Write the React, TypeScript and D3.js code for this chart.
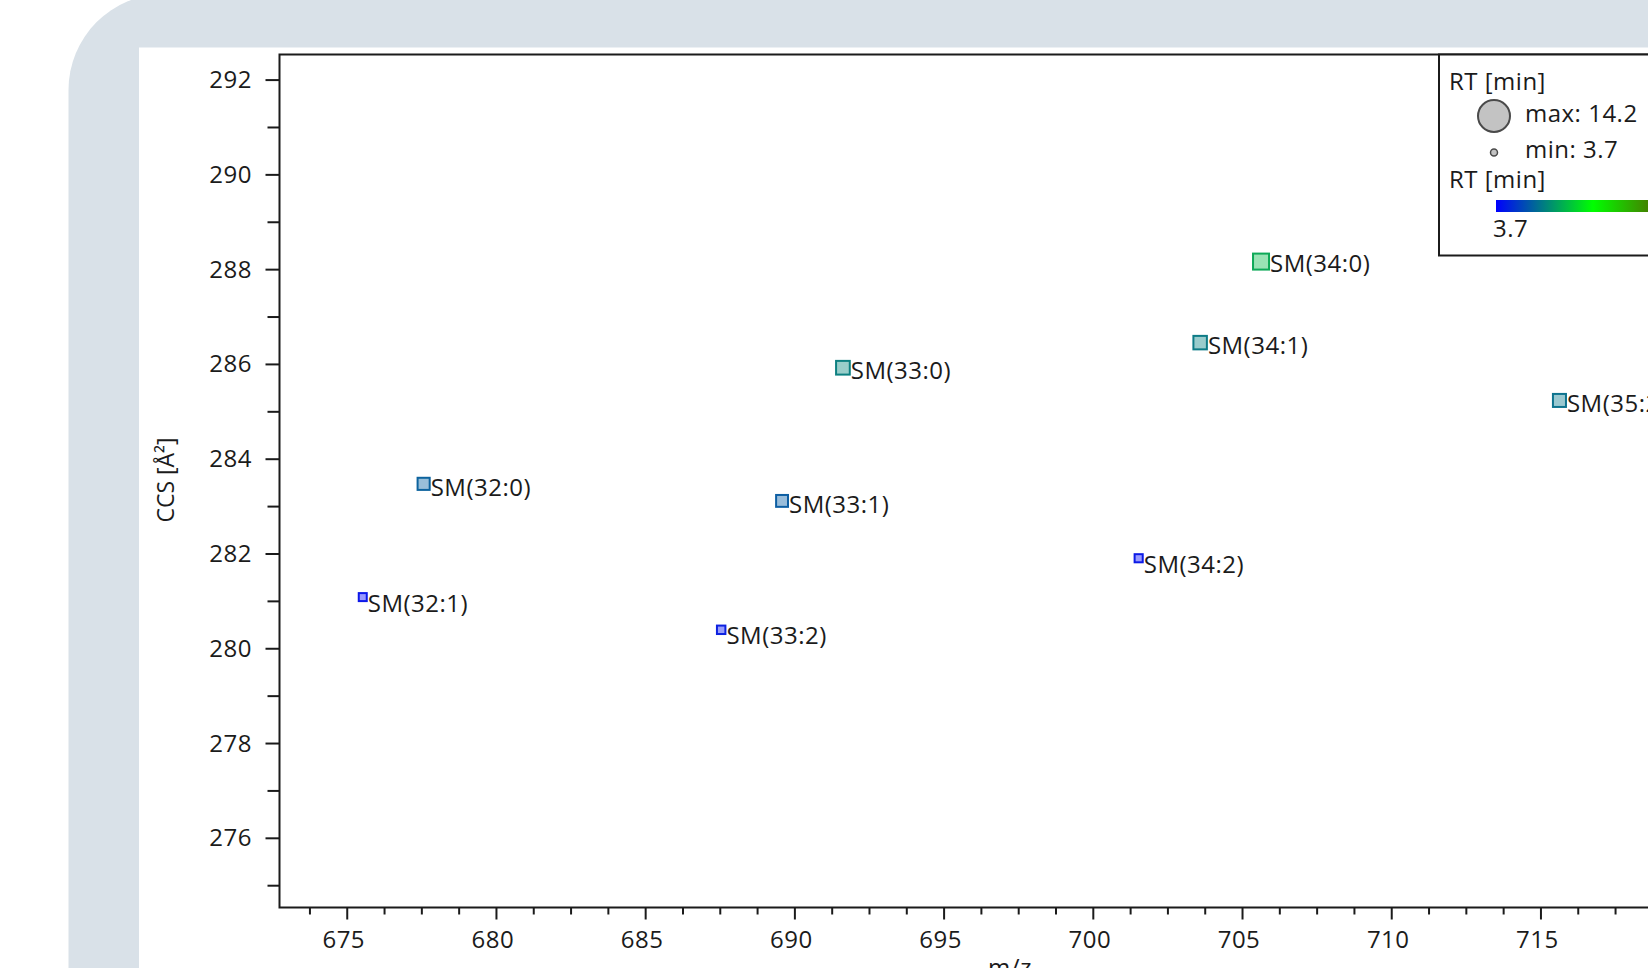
import React from "react";
import * as d3 from "d3";

// ---- data ----
const labels = ["SM(32:1)", "SM(32:0)", "SM(33:2)", "SM(33:1)", "SM(33:0)", "SM(34:2)", "SM(34:1)", "SM(34:0)", "SM(35:2)"];
const mzValues = [675.52, 677.56, 687.53, 689.57, 691.61, 701.52, 703.58, 705.62, 715.62];
const ccsValues = [281.09, 283.48, 280.4, 283.12, 285.93, 281.91, 286.46, 288.17, 285.24];
const rtValues = [3.7, 5.5, 3.9, 5.4, 6.2, 3.75, 6.1, 7.2, 5.9];

const xMajorTicks = [675, 680, 685, 690, 695, 700, 705, 710, 715, 720];
const xMinorStep = 1.25;
const yMajorTicks = [276, 278, 280, 282, 284, 286, 288, 290, 292];
const yMinorTicks = [275, 277, 279, 281, 283, 285, 287, 289, 291];

const rtMin = 3.7;
const rtMax = 14.2;
const rtColorStops = [3.7, 8.5, 14.2];

const W = 1648;
const H = 968;
const FONT = "'Open Sans', 'Noto Sans', sans-serif";
const INK = "#1b1b1b";

export default function App() {
  const left = 279.5;
  const right = 1740;
  const top = 54.5;
  const bottom = 907.5;

  const x = d3.scaleLinear().domain([672.73, 721.67]).range([left, right]);
  const y = d3.scaleLinear().domain([274.54, 292.54]).range([bottom, top]);
  const size = d3.scaleLinear().domain([rtMin, rtMax]).range([8, 32]);
  const color = d3
    .scaleLinear<string>()
    .domain(rtColorStops)
    .range(["#0000ff", "#00ff00", "#8b0000"])
    .interpolate(d3.interpolateRgb);

  const [d0, d1] = x.domain();
  const xMinorTicks: number[] = [];
  for (let v = 675 - xMinorStep * Math.floor((675 - d0) / xMinorStep); v <= d1; v += xMinorStep) {
    const r = Math.round(v * 100) / 100;
    if (Math.abs(r % 5) > 0.01) xMinorTicks.push(r);
  }

  const points = labels.map((name, i) => {
    const c = color(rtValues[i]);
    return {
      name,
      cx: x(mzValues[i]),
      cy: y(ccsValues[i]),
      s: size(rtValues[i]),
      c,
      stroke: d3.interpolateRgb(c, "#3c6e9a")(0.22),
    };
  });

  // legend
  const lgX = 1439;
  const lgY = top;
  const barX = 1496;
  const barW = 212;
  const barScale = d3.scaleLinear().domain([rtMin, rtMax]).range([barX, barX + barW]);
  const gradStops = rtColorStops.map((v) => ({
    offset: ((barScale(v) - barX) / barW) * 100,
    c: color(v),
  }));

  const textStyle: React.CSSProperties = {
    fontFamily: FONT,
    fontSize: 24,
    letterSpacing: 0.5,
    fill: INK,
  };

  return (
    <div style={{ position: "fixed", left: 0, top: 0, width: W, height: H, overflow: "hidden", background: "#ffffff" }}>
      <svg width={W} height={H} style={{ display: "block" }}>
        <defs>
          <linearGradient id="rtgrad" x1="0" x2="1" y1="0" y2="0">
            {gradStops.map((g, i) => (
              <stop key={i} offset={`${g.offset}%`} stopColor={g.c} />
            ))}
          </linearGradient>
        </defs>
        {/* background frames */}
        <rect x={68.5} y={-6} width={1800} height={1200} rx={96} ry={96} fill="#d9e1e8" />
        <rect x={139} y={47.5} width={1700} height={1100} fill="#ffffff" />

        {/* y axis ticks */}
        {yMajorTicks.map((v) => (
          <g key={"ym" + v}>
            <line x1={left - 14} x2={left} y1={y(v)} y2={y(v)} stroke={INK} strokeWidth={2} />
            <text x={252} y={y(v) + 8} textAnchor="end" style={textStyle}>
              {v}
            </text>
          </g>
        ))}
        {yMinorTicks.map((v) => (
          <line key={"yn" + v} x1={left - 12} x2={left} y1={y(v)} y2={y(v)} stroke={INK} strokeWidth={2} />
        ))}

        {/* x axis ticks */}
        {xMajorTicks.map((v) => (
          <g key={"xm" + v}>
            <line x1={x(v)} x2={x(v)} y1={bottom} y2={bottom + 12} stroke={INK} strokeWidth={2} />
            <text x={x(v) - 3.5} y={948} textAnchor="middle" style={textStyle}>
              {v}
            </text>
          </g>
        ))}
        {xMinorTicks.map((v) => (
          <line key={"xn" + v} x1={x(v)} x2={x(v)} y1={bottom} y2={bottom + 7} stroke={INK} strokeWidth={2} />
        ))}

        {/* frame */}
        <path d={`M${right},${top}H${left}V${bottom}H${right}`} fill="none" stroke={INK} strokeWidth={2} />

        {/* axis titles */}
        <text
          transform={`translate(174,480) rotate(-90)`}
          textAnchor="middle"
          style={{ fontFamily: FONT, fontSize: 23, fill: INK }}
        >
          CCS [Å²]
        </text>
        <text x={1010} y={976} textAnchor="middle" style={textStyle}>
          m/z
        </text>

        {/* points */}
        {points.map((p) => (
          <g key={p.name}>
            <rect
              x={p.cx - p.s / 2}
              y={p.cy - p.s / 2}
              width={p.s}
              height={p.s}
              fill={p.c}
              fillOpacity={0.4}
              stroke={p.stroke}
              strokeWidth={2}
            />
            <text x={p.cx + p.s / 2 + 1} y={p.cy - p.s / 2 + 18.5} style={textStyle}>
              {p.name}
            </text>
          </g>
        ))}

        {/* legend */}
        <rect x={lgX} y={lgY} width={320} height={201} fill="#ffffff" stroke={INK} strokeWidth={2} />
        <text x={1449} y={90} style={textStyle}>RT [min]</text>
        <circle cx={1494} cy={116} r={size(rtMax) / 2} fill="#c3c3c3" stroke="#4a4a4a" strokeWidth={2} />
        <text x={1525} y={122} style={textStyle}>max: {rtMax}</text>
        <circle cx={1494} cy={152.5} r={size(rtMin) / 2 - 0.5} fill="#c3c3c3" stroke="#4a4a4a" strokeWidth={1.5} />
        <text x={1525} y={158} style={textStyle}>min: {rtMin}</text>
        <text x={1449} y={188} style={textStyle}>RT [min]</text>
        <rect x={barX} y={200} width={barW} height={12} fill="url(#rtgrad)" />
        <text x={1493} y={236.5} style={textStyle}>{rtMin}</text>
        <text x={barX + barW} y={236.5} textAnchor="end" style={textStyle}>{rtMax}</text>
      </svg>
    </div>
  );
}
